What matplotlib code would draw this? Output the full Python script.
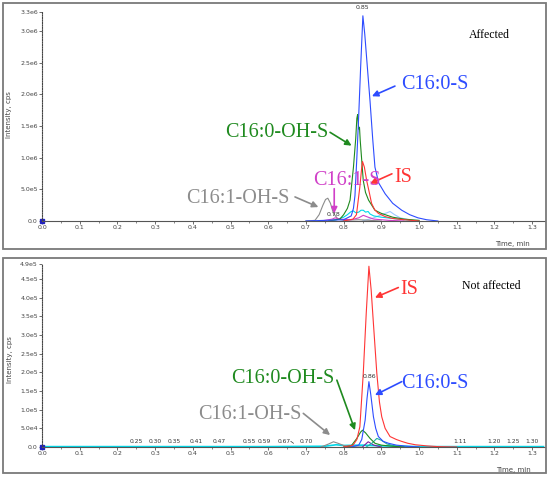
import numpy as np
import matplotlib
matplotlib.use("Agg")
import matplotlib.pyplot as plt
from matplotlib.patches import Rectangle

# ---- top panel (Affected), intensity in cps ----
top_blue_t = [0.70, 0.80, 0.82, 0.826, 0.83, 0.835, 0.84, 0.845, 0.851, 0.856, 0.861, 0.870, 0.877, 0.883, 0.893,
              0.91, 0.93, 0.954, 0.975, 0.997, 1.02, 1.05]
top_blue_y = [0, 0.02e6, 0.08e6, 0.2e6, 0.4e6, 1.0e6, 1.67e6, 2.42e6, 3.24e6, 2.95e6, 2.57e6, 1.89e6, 1.3e6, 0.85e6, 0.6e6,
              0.43e6, 0.28e6, 0.17e6, 0.1e6, 0.05e6, 0.02e6, 0]
top_green_t = [0.76, 0.79, 0.80, 0.81, 0.817, 0.826, 0.832, 0.835, 0.837, 0.840, 0.842, 0.844, 0.852, 0.858, 0.866,
               0.883, 0.90, 0.93, 0.96, 1.0]
top_green_y = [0, 0.03e6, 0.1e6, 0.2e6, 0.33e6, 0.85e6, 1.3e6, 1.62e6, 1.68e6, 1.45e6, 1.48e6, 1.27e6, 0.64e6, 0.45e6,
               0.33e6, 0.17e6, 0.12e6, 0.06e6, 0.03e6, 0.01e6]
top_red_t = [0.80, 0.825, 0.834, 0.843, 0.848, 0.850, 0.855, 0.861, 0.868, 0.874, 0.882, 0.892, 0.91, 0.93, 0.96, 1.0]
top_red_y = [0, 0.03e6, 0.1e6, 0.54e6, 0.85e6, 0.94e6, 0.85e6, 0.64e6, 0.45e6, 0.28e6, 0.18e6, 0.12e6, 0.07e6,
             0.04e6, 0.02e6, 0]
top_mag_t = [0.74, 0.77, 0.777, 0.79, 0.82, 0.84, 0.852, 0.865, 0.88, 0.92, 0.96]
top_mag_y = [0, 0.03e6, 0.05e6, 0.03e6, 0.02e6, 0.05e6, 0.09e6, 0.06e6, 0.03e6, 0.01e6, 0]
top_gray_t = [0.70, 0.724, 0.735, 0.745, 0.752, 0.758, 0.765, 0.773, 0.785, 0.80, 0.84, 0.87, 0.90]
top_gray_y = [0, 0.01e6, 0.1e6, 0.25e6, 0.34e6, 0.36e6, 0.28e6, 0.12e6, 0.03e6, 0.01e6, 0.02e6, 0.01e6, 0]
top_cyan_t = [0.76, 0.78, 0.80, 0.81, 0.82, 0.826, 0.832, 0.84, 0.846, 0.852, 0.858, 0.865, 0.87, 0.88, 0.90, 0.93,
              0.96, 1.0]
top_cyan_y = [0, 0.02e6, 0.06e6, 0.1e6, 0.15e6, 0.16e6, 0.13e6, 0.14e6, 0.17e6, 0.17e6, 0.14e6, 0.15e6, 0.11e6,
              0.08e6, 0.06e6, 0.04e6, 0.02e6, 0]
top_lblue_t = [0.85, 0.88, 0.90, 0.915, 0.923, 0.935, 0.95, 0.98]
top_lblue_y = [0, 0.05e6, 0.1e6, 0.13e6, 0.15e6, 0.1e6, 0.05e6, 0.01e6]

# ---- bottom panel (Not affected) ----
bot_red_t = [0.80, 0.825, 0.835, 0.843, 0.852, 0.860, 0.867, 0.873, 0.879, 0.888, 0.895, 0.901, 0.91, 0.923, 0.94,
             0.954, 0.97, 0.99, 1.02, 1.05, 1.10]
bot_red_y = [0, 0.05e5, 0.2e5, 0.54e5, 1.97e5, 3.6e5, 4.84e5, 4.2e5, 3.3e5, 1.97e5, 1.2e5, 0.81e5, 0.5e5, 0.28e5,
             0.2e5, 0.15e5, 0.1e5, 0.06e5, 0.03e5, 0.01e5, 0]
bot_blue_t = [0.82, 0.84, 0.848, 0.857, 0.862, 0.867, 0.872, 0.879, 0.885, 0.892, 0.905, 0.919, 0.94, 0.97, 1.0]
bot_blue_y = [0, 0.05e5, 0.2e5, 0.72e5, 1.3e5, 1.75e5, 1.4e5, 0.81e5, 0.5e5, 0.28e5, 0.15e5, 0.1e5, 0.05e5,
              0.02e5, 0]
bot_green_t = [0.80, 0.82, 0.835, 0.845, 0.850, 0.858, 0.87, 0.883, 0.90, 0.93, 0.96]
bot_green_y = [0, 0.03e5, 0.23e5, 0.4e5, 0.45e5, 0.38e5, 0.23e5, 0.1e5, 0.05e5, 0.02e5, 0]
bot_teal_t = [0.86, 0.875, 0.888, 0.90, 0.915, 0.94, 0.97]
bot_teal_y = [0, 0.1e5, 0.23e5, 0.18e5, 0.08e5, 0.02e5, 0]
bot_gray_t = [0.74, 0.76, 0.773, 0.785, 0.80, 0.82, 0.85]
bot_gray_y = [0, 0.08e5, 0.14e5, 0.1e5, 0.04e5, 0.01e5, 0]
bot_mag_t = [0.85, 0.865, 0.88, 0.90]
bot_mag_y = [0, 0.14e5, 0.05e5, 0]
bot_cyan_t = [0.0, 0.2, 0.4, 0.6, 0.75, 0.78, 0.80, 0.85, 0.90, 1.0, 1.2, 1.33]
bot_cyan_y = [0.01e5, 0.01e5, 0.01e5, 0.01e5, 0.02e5, 0.06e5, 0.04e5, 0.05e5, 0.03e5, 0.01e5, 0.01e5, 0.01e5]

# retention-time labels of the small baseline peaks
bot_peak_labels = [0.25, 0.30, 0.35, 0.41, 0.47, 0.55, 0.59, 0.67, 0.70, 1.11, 1.20, 1.25, 1.30]

top_yticks = [0, 0.5e6, 1.0e6, 1.5e6, 2.0e6, 2.5e6, 3.0e6, 3.3e6]
top_ylabels = ["0.0", "5.0e5", "1.0e6", "1.5e6", "2.0e6", "2.5e6", "3.0e6", "3.3e6"]
bot_yticks = [0, 0.5e5, 1.0e5, 1.5e5, 2.0e5, 2.5e5, 3.0e5, 3.5e5, 4.0e5, 4.5e5, 4.9e5]
bot_ylabels = ["0.0", "5.0e4", "1.0e5", "1.5e5", "2.0e5", "2.5e5", "3.0e5", "3.5e5", "4.0e5", "4.5e5", "4.9e5"]
xticks = [i / 10 for i in range(14)]

W, H = 550, 478
fig = plt.figure(figsize=(W / 100, H / 100), dpi=100)
fig.patch.set_facecolor("white")

BLUE = "#2d4cff"
GREEN = "#1f8a1f"
RED = "#ff3535"
MAG = "#d040c8"
GRAY = "#8c8c8c"
CYAN = "#00d8e8"
SERIF = "Liberation Serif"


def frame(y0, y1):
    fig.patches.append(Rectangle((3 / W, 1 - y1 / H), 543 / W, (y1 - y0) / H, transform=fig.transFigure,
                                 fill=False, ec="#7a7a7a", lw=1.3))


def setup(ax, ymax, yt, yl):
    ax.set_xlim(0, 1.334)
    ax.set_ylim(0, ymax)
    for s in ["top", "right"]:
        ax.spines[s].set_visible(False)
    ax.spines["left"].set_color("#444444")
    ax.spines["left"].set_linestyle((0, (1, 1.2)))
    ax.spines["bottom"].set_color("#555555")
    ax.set_xticks(xticks)
    ax.set_xticklabels(["%.1f" % v for v in xticks])
    ax.set_xticks([v + 0.05 for v in xticks[:-1]], minor=True)
    ax.set_yticks(yt)
    ax.set_yticklabels(yl)
    ax.tick_params(labelsize=4.5, labelcolor="#444444", color="#555555", length=2, width=0.6, pad=1)
    ax.tick_params(which="minor", length=1.2, width=0.5, color="#555555")
    ax.set_facecolor("none")


def arrow(ax, xt, yt, xs, ys, color):
    ax.annotate("", xy=(xt, yt), xytext=(xs, ys),
                arrowprops=dict(arrowstyle="-|>", color=color, lw=1.2, mutation_scale=9,
                                shrinkA=0, shrinkB=0))


frame(3, 249)
frame(258, 473)

# ---------- top ----------
ax1 = fig.add_axes([42 / W, 1 - 221 / H, 503 / W, 209 / H])
setup(ax1, 3.3e6, top_yticks, top_ylabels)
lw = 0.8
ax1.plot(top_lblue_t, top_lblue_y, color="#9cc8ff", lw=lw)
ax1.plot(top_cyan_t, top_cyan_y, color=CYAN, lw=lw)
ax1.plot(top_gray_t, top_gray_y, color=GRAY, lw=lw)
ax1.plot(top_mag_t, top_mag_y, color=MAG, lw=lw)
ax1.plot(top_green_t, top_green_y, color=GREEN, lw=lw)
ax1.plot(top_red_t, top_red_y, color=RED, lw=lw)
ax1.plot(top_blue_t, top_blue_y, color=BLUE, lw=lw)
ax1.plot([0], [0], marker="s", ms=2.5, color="#2020c0", clip_on=False)

ax1.text(0.851, 3.33e6, "0.85", fontsize=4.5, ha="center", va="bottom", color="#333333", clip_on=False)
ax1.text(0.772, 0.07e6, "0.78", fontsize=4.5, ha="center", va="bottom", color="#333333")
ax1.text(1.186, 2.94e6, "Affected", fontsize=8.5, family=SERIF, ha="center", va="center")
ax1.text(1.042, 2.16e6, "C16:0-S", fontsize=14.5, family=SERIF, color=BLUE, ha="center", va="center")
arrow(ax1, 0.875, 1.97e6, 0.936, 2.13e6, BLUE)
ax1.text(0.623, 1.39e6, "C16:0-OH-S", fontsize=14.5, family=SERIF, color=GREEN, ha="center", va="center")
arrow(ax1, 0.821, 1.19e6, 0.764, 1.40e6, GREEN)
ax1.text(0.958, 0.69e6, "IS", fontsize=14.5, family=SERIF, color=RED, ha="center", va="center")
arrow(ax1, 0.870, 0.59e6, 0.928, 0.745e6, RED)
ax1.text(0.809, 0.64e6, "C16:1-S", fontsize=14.5, family=SERIF, color=MAG, ha="center", va="center")
arrow(ax1, 0.775, 0.12e6, 0.775, 0.51e6, MAG)
ax1.text(0.520, 0.36e6, "C16:1-OH-S", fontsize=14.5, family=SERIF, color=GRAY, ha="center", va="center")
arrow(ax1, 0.733, 0.22e6, 0.671, 0.38e6, GRAY)

fig.text(9 / W, 1 - 115 / H, "Intensity, cps", rotation=90, fontsize=5, color="#444444", ha="center", va="center")
fig.text(512 / W, 1 - 244 / H, "Time, min", fontsize=5, color="#444444", ha="center", va="center")

# ---------- bottom ----------
ax2 = fig.add_axes([42 / W, 1 - 447 / H, 503 / W, 183 / H])
setup(ax2, 4.9e5, bot_yticks, bot_ylabels)
ax2.plot(bot_cyan_t, bot_cyan_y, color=CYAN, lw=1.2)
ax2.plot(bot_gray_t, bot_gray_y, color=GRAY, lw=lw)
ax2.plot(bot_mag_t, bot_mag_y, color="#8020a0", lw=lw)
ax2.plot(bot_teal_t, bot_teal_y, color="#20b0a0", lw=lw)
ax2.plot(bot_green_t, bot_green_y, color=GREEN, lw=lw)
ax2.plot(bot_blue_t, bot_blue_y, color=BLUE, lw=lw)
ax2.plot(bot_red_t, bot_red_y, color=RED, lw=lw)
ax2.plot([0], [0], marker="s", ms=2.5, color="#2020c0", clip_on=False)

for v in bot_peak_labels:
    if v == 0.67:
        # crowded label: pushed left with a small leader, as in the software output
        ax2.text(v - 0.028, 0.09e5, "%.2f" % v, fontsize=4.3, ha="center", va="bottom", color="#333333")
        ax2.plot([v - 0.01, v - 0.003], [0.15e5, 0.1e5], color="#333333", lw=0.5)
    else:
        ax2.text(v, 0.09e5, "%.2f" % v, fontsize=4.3, ha="center", va="bottom", color="#333333")
ax2.text(0.868, 1.82e5, "0.86", fontsize=4.5, ha="center", va="bottom", color="#333333")
ax2.text(1.191, 4.30e5, "Not affected", fontsize=8.5, family=SERIF, ha="center", va="center")
ax2.text(0.973, 4.22e5, "IS", fontsize=14.5, family=SERIF, color=RED, ha="center", va="center")
arrow(ax2, 0.883, 4.0e5, 0.945, 4.27e5, RED)
ax2.text(1.042, 1.71e5, "C16:0-S", fontsize=14.5, family=SERIF, color=BLUE, ha="center", va="center")
arrow(ax2, 0.883, 1.39e5, 0.954, 1.75e5, BLUE)
ax2.text(0.639, 1.84e5, "C16:0-OH-S", fontsize=14.5, family=SERIF, color=GREEN, ha="center", va="center")
arrow(ax2, 0.830, 0.45e5, 0.782, 1.79e5, GREEN)
ax2.text(0.552, 0.86e5, "C16:1-OH-S", fontsize=14.5, family=SERIF, color=GRAY, ha="center", va="center")
arrow(ax2, 0.764, 0.32e5, 0.693, 0.90e5, GRAY)

fig.text(10 / W, 1 - 360 / H, "Intensity, cps", rotation=90, fontsize=5, color="#444444", ha="center", va="center")
fig.text(513 / W, 1 - 470 / H, "Time, min", fontsize=5, color="#444444", ha="center", va="center")

fig.savefig("out.png", dpi=100)
